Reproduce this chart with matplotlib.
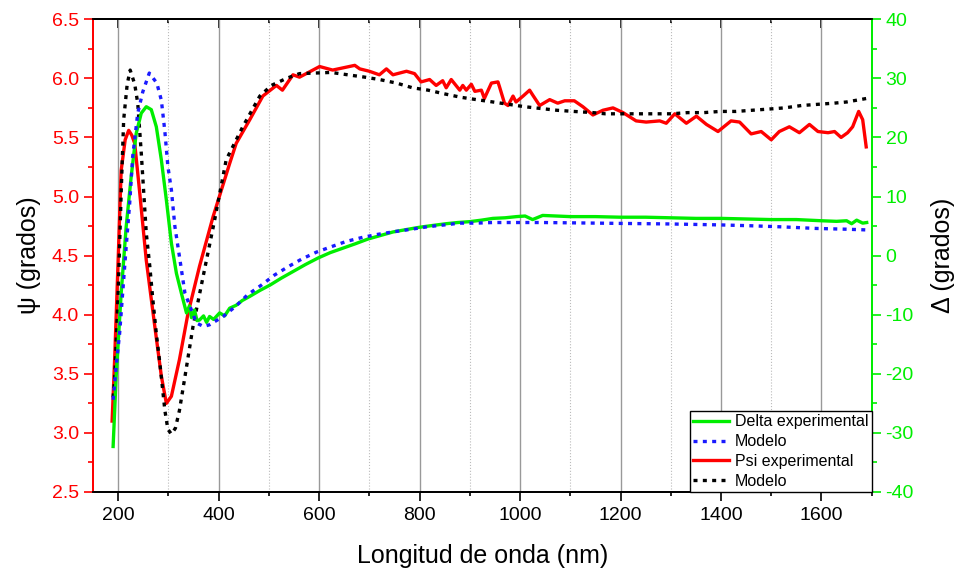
#!/usr/bin/env python3
"""
Elipsometria: Psi y Delta experimentales frente al modelo.
"""

import matplotlib
matplotlib.use('Agg')
import matplotlib.pyplot as plt
from matplotlib.lines import Line2D
from matplotlib.ticker import MultipleLocator, FormatStrFormatter

plt.rcParams['font.family'] = ['Liberation Sans', 'DejaVu Sans']
plt.rcParams['axes.unicode_minus'] = False

# ---- Datos ----
# Psi experimental (grados)
psi_exp_wl = [188, 193, 200, 206, 214, 221, 227, 233, 243, 256, 273, 286, 296, 306,
              322, 339, 362, 389, 422, 435, 462, 488, 515, 527, 548, 561, 601, 627,
              671, 681, 700, 720, 734, 747, 774, 790, 803, 820, 833, 846, 853, 863,
              880, 886, 893, 903, 910, 923, 929, 943, 956, 959, 969, 976, 986, 992,
              1006, 1019, 1025, 1039, 1059, 1075, 1089, 1108, 1125, 1145, 1165, 1185,
              1205, 1231, 1251, 1278, 1291, 1308, 1331, 1351, 1371, 1394, 1420, 1437,
              1460, 1480, 1500, 1516, 1536, 1556, 1576, 1593, 1613, 1626, 1639, 1652,
              1662, 1674, 1682, 1689]
psi_exp = [3.10, 3.62, 4.46, 5.22, 5.48, 5.56, 5.52, 5.45, 5.03, 4.46, 3.90, 3.48, 3.25, 3.31,
           3.62, 4.01, 4.41, 4.83, 5.28, 5.45, 5.65, 5.85, 5.94, 5.90, 6.03, 6.01, 6.10, 6.07,
           6.11, 6.08, 6.06, 6.03, 6.08, 6.03, 6.06, 6.04, 5.97, 5.99, 5.94, 5.98, 5.92, 5.99,
           5.90, 5.94, 5.90, 5.95, 5.89, 5.90, 5.83, 5.96, 5.97, 5.93, 5.79, 5.77, 5.85, 5.80,
           5.85, 5.90, 5.86, 5.77, 5.82, 5.79, 5.81, 5.81, 5.76, 5.69, 5.73, 5.75,
           5.71, 5.64, 5.63, 5.64, 5.62, 5.70, 5.62, 5.68, 5.61, 5.55, 5.64, 5.63,
           5.53, 5.55, 5.48, 5.55, 5.59, 5.54, 5.61, 5.55, 5.54, 5.55, 5.50, 5.54,
           5.59, 5.72, 5.65, 5.42]

# Psi modelo
psi_mod_wl = [190, 193, 200, 206, 211, 218, 224, 233, 239, 246, 256, 263, 269, 276, 283,
              293, 299, 306, 314, 322, 332, 349, 369, 392, 415, 448, 482, 505, 535, 561,
              624, 657, 691, 720, 754, 786, 817, 848, 882, 913, 946, 1009, 1073, 1107,
              1145, 1170, 1201, 1236, 1270, 1301, 1334, 1366, 1398, 1430, 1462, 1495,
              1526, 1560, 1592, 1625, 1650, 1690]
psi_mod = [3.30, 3.45, 4.18, 5.03, 5.65, 5.95, 6.07, 5.95, 5.79, 5.37, 4.69, 4.41, 4.13, 3.84, 3.59,
           3.19, 3.03, 2.99, 3.04, 3.19, 3.45, 3.90, 4.32, 4.80, 5.31, 5.59, 5.85, 5.94, 6.00, 6.04,
           6.05, 6.03, 6.01, 5.99, 5.96, 5.92, 5.90, 5.87, 5.84, 5.82, 5.80, 5.76, 5.73, 5.72,
           5.71, 5.70, 5.70, 5.70, 5.70, 5.70, 5.71, 5.71, 5.72, 5.72, 5.73, 5.74,
           5.75, 5.77, 5.78, 5.79, 5.80, 5.83]

# Delta experimental (grados)
delta_exp_wl = [190, 196, 206, 216, 226, 236, 246, 256, 266, 276, 286, 296, 306, 316, 326,
                336, 342, 346, 352, 357, 362, 370, 376, 382, 390, 402, 412, 422, 435, 447,
                462, 482, 502, 525, 548, 573, 598, 622, 647, 672, 697, 722, 747, 773, 800,
                826, 853, 876, 900, 923, 946, 970, 993, 1010, 1025, 1045, 1100, 1150, 1200,
                1250, 1300, 1350, 1400, 1450, 1500, 1550, 1600, 1630, 1650, 1660, 1670,
                1682, 1690]
delta_exp = [-32.3, -20.5, -6.4, 4.9, 13.4, 20.7, 24.1, 25.2, 24.7, 21.8, 16.2, 9.4, 2.1, -3.0, -6.4,
             -9.7, -8.5, -10.5, -9.2, -11.0, -10.9, -10.2, -11.3, -10.3, -10.8, -9.7, -10.2, -8.9, -8.4, -7.6,
             -6.9, -5.9, -5.0, -3.8, -2.7, -1.5, -0.4, 0.5, 1.25, 2.0, 2.8, 3.4, 4.0, 4.4, 4.8,
             5.1, 5.4, 5.6, 5.75, 6.0, 6.3, 6.4, 6.6, 6.7, 6.1, 6.8, 6.6, 6.6, 6.5,
             6.5, 6.4, 6.3, 6.3, 6.2, 6.1, 6.1, 5.9, 5.8, 5.9, 5.4, 6.0,
             5.5, 5.6]

# Delta modelo
delta_mod_wl = [190, 196, 203, 210, 216, 223, 229, 239, 249, 262, 277, 286, 293, 299, 306,
                313, 323, 333, 356, 370, 382, 409, 435, 458, 485, 511, 538, 565, 595, 624,
                654, 687, 717, 750, 784, 817, 850, 880, 913, 946, 976, 1009, 1042, 1100,
                1200, 1297, 1397, 1460, 1523, 1589, 1649, 1690]
delta_mod = [-24.4, -18.8, -13.1, -5.2, 1.5, 8.9, 16.8, 24.1, 27.7, 30.9, 29.2, 26.3, 21.0, 15.1, 11.1,
             4.9, -0.7, -6.4, -11.4, -12.0, -11.7, -10.3, -8.5, -6.6, -5.0, -3.3, -1.9, -0.6, 0.6, 1.5,
             2.4, 3.1, 3.6, 4.06, 4.47, 4.9, 5.2, 5.5, 5.5, 5.6, 5.6, 5.6, 5.6, 5.55,
             5.45, 5.36, 5.2, 5.05, 4.86, 4.6, 4.47, 4.35]

legend_labels = ['Delta experimental', 'Modelo', 'Psi experimental', 'Modelo']

RED = '#ff0000'
GREEN = '#00ee00'
BLUE = '#1a1aff'
DOTS = (0, (1.2, 1.6))
LW = 2.4


def main():
    fig = plt.figure(figsize=(9.59, 5.73), dpi=100)
    ax = fig.add_axes([0.097, 0.1414, 0.812, 0.825])
    ax2 = ax.twinx()

    # Curvas Delta (eje derecho)
    ax2.plot(delta_exp_wl, delta_exp, color=GREEN, lw=LW, zorder=3)
    ax2.plot(delta_mod_wl, delta_mod, color=BLUE, lw=LW, ls=DOTS, zorder=3)

    # Curvas Psi (eje izquierdo)
    ax.plot(psi_exp_wl, psi_exp, color=RED, lw=LW, zorder=3)
    ax.plot(psi_mod_wl, psi_mod, color='black', lw=LW, ls=DOTS, zorder=3)

    ax.set_xlim(150, 1700)
    ax.set_ylim(2.5, 6.5)
    ax2.set_ylim(-40, 40)

    # Ticks
    ax.xaxis.set_major_locator(MultipleLocator(200))
    ax.xaxis.set_minor_locator(MultipleLocator(100))
    ax.yaxis.set_major_locator(MultipleLocator(0.5))
    ax.yaxis.set_minor_locator(MultipleLocator(0.25))
    ax2.yaxis.set_major_locator(MultipleLocator(10))
    ax2.yaxis.set_minor_locator(MultipleLocator(5))
    ax.yaxis.set_major_formatter(FormatStrFormatter('%.1f'))

    # eje x: ticks hacia fuera abajo, hacia dentro arriba
    ax.tick_params(axis='x', which='major', direction='out', length=6.5, width=1.2,
                   labelsize=14, pad=4)
    ax.tick_params(axis='x', which='minor', direction='out', length=3, width=1.2)
    top = ax.secondary_xaxis('top')
    top.xaxis.set_major_locator(MultipleLocator(200))
    top.xaxis.set_minor_locator(MultipleLocator(100))
    top.tick_params(axis='x', which='major', direction='in', length=6.5, width=1.2,
                    labeltop=False)
    top.tick_params(axis='x', which='minor', direction='in', length=3, width=1.2)
    top.spines['top'].set_linewidth(1.3)

    ax.tick_params(axis='y', which='both', colors=RED, labelsize=14, width=1.2)
    ax.tick_params(axis='y', which='major', length=6.5)
    ax.tick_params(axis='y', which='minor', length=3.5)
    ax2.tick_params(axis='y', which='both', colors=GREEN, labelsize=14, width=1.2)
    ax2.tick_params(axis='y', which='major', length=6.5)
    ax2.tick_params(axis='y', which='minor', length=3.5)

    # Rejilla vertical
    ax.grid(True, which='major', axis='x', color='#999999', lw=1.0, zorder=0)
    ax.grid(True, which='minor', axis='x', color='#bbbbbb', lw=0.8, ls=':', zorder=0)
    ax.set_axisbelow(True)

    # Ejes coloreados
    for a in (ax, ax2):
        a.spines['left'].set_color(RED)
        a.spines['right'].set_color(GREEN)
        for s in a.spines.values():
            s.set_linewidth(1.3)

    ax.set_xlabel('Longitud de onda (nm)', fontsize=18, labelpad=15)
    ax.set_ylabel('ψ (grados)', fontsize=18, labelpad=8)
    ax2.set_ylabel('Δ (grados)', fontsize=18, labelpad=12)

    handles = [
        Line2D([], [], color=GREEN, lw=LW),
        Line2D([], [], color=BLUE, lw=LW, ls=DOTS),
        Line2D([], [], color=RED, lw=LW),
        Line2D([], [], color='black', lw=LW, ls=DOTS),
    ]
    leg = ax2.legend(handles, legend_labels, loc='lower right', fontsize=11.5,
                     frameon=True, fancybox=False, edgecolor='black', framealpha=1,
                     borderpad=0.2, labelspacing=0.3, handlelength=2.3,
                     handletextpad=0.35, borderaxespad=0.0)
    leg.get_frame().set_linewidth(1.0)
    leg.set_zorder(10)

    fig.savefig('out.png', dpi=100)


if __name__ == "__main__":
    main()
